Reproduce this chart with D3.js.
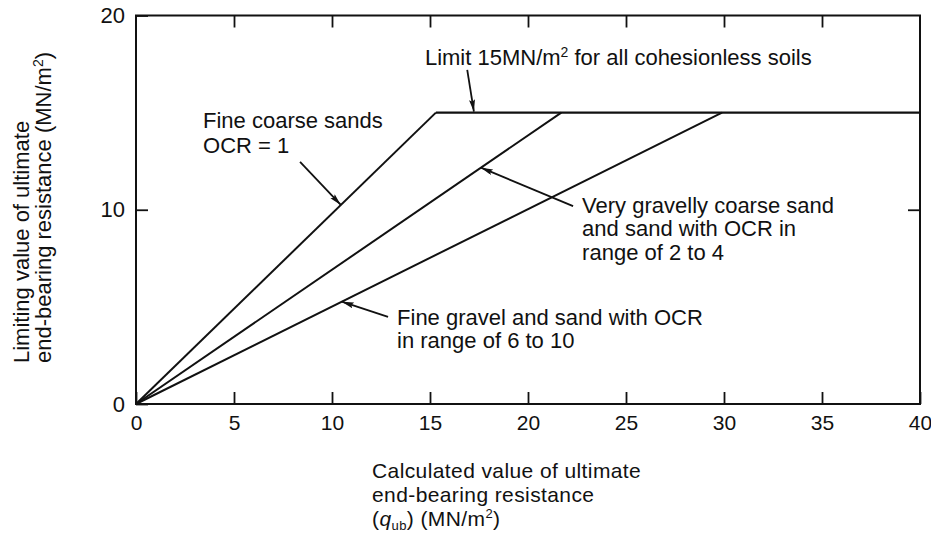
<!DOCTYPE html>
<html><head><meta charset="utf-8">
<script src="https://cdn.jsdelivr.net/npm/d3@7"></script>
<style>
body{margin:0;background:#fff}
svg{display:block}
text{font-family:"Liberation Sans",Arial,Helvetica,sans-serif;fill:#111}
</style>
</head><body>
<svg id="c" width="931" height="535"></svg>
<script>
// ---------- data ----------
const xTicks = [0, 5, 10, 15, 20, 25, 30, 35, 40];
const yTicks = [0, 10, 20];
const xDomain = [0, 40];
const yDomain = [0, 20];
const limitValue = 15;                 // MN/m2 limit for all cohesionless soils
const seriesNames = [
  "Fine coarse sands OCR = 1",
  "Very gravelly coarse sand and sand with OCR in range of 2 to 4",
  "Fine gravel and sand with OCR in range of 6 to 10"
];
const seriesStartX = [0, 0, 0];
const seriesStartY = [0, 0, 0];
const seriesLimitX = [15.3, 21.7, 29.9]; // calculated value where each line reaches the limit
const limitEndX = 40;

// annotation texts
const limitLabel = ["Limit 15MN/m", "2", " for all cohesionless soils"];
const label1Lines = ["Fine coarse sands", "OCR = 1"];
const label2Lines = ["Very gravelly coarse sand", "and sand with OCR in", "range of 2 to 4"];
const label3Lines = ["Fine gravel and sand with OCR", "in range of 6 to 10"];

// ---------- layout ----------
const svg = d3.select("#c");
const x = d3.scaleLinear().domain(xDomain).range([136, 920]);
const y = d3.scaleLinear().domain(yDomain).range([404, 15.5]);
const FS = 22;
const INK = "#111";

const defs = svg.append("defs");
defs.append("marker")
  .attr("id", "arr").attr("markerUnits", "userSpaceOnUse")
  .attr("markerWidth", 13).attr("markerHeight", 8)
  .attr("refX", 12).attr("refY", 3).attr("orient", "auto")
  .append("path").attr("d", "M0,0 L12,3 L0,6 L2,3 Z").attr("fill", INK);

// frame
svg.append("rect")
  .attr("x", x(xDomain[0])).attr("y", y(yDomain[1]))
  .attr("width", x(xDomain[1]) - x(xDomain[0]))
  .attr("height", y(yDomain[0]) - y(yDomain[1]))
  .attr("fill", "none").attr("stroke", INK).attr("stroke-width", 2);

function styleAxis(fs) {
  return g => {
    g.select(".domain").remove();
    g.selectAll(".tick line").attr("stroke", INK).attr("stroke-width", 1.8);
    g.selectAll(".tick text").attr("font-size", fs).attr("fill", INK)
      .attr("font-family", '"Liberation Sans",Arial,sans-serif');
  };
}

// bottom axis (inward ticks)
svg.append("g").attr("transform", `translate(0,${y(0)})`)
  .call(d3.axisBottom(x).tickValues(xTicks).tickSize(-12).tickPadding(11).tickFormat(d3.format("d")))
  .call(styleAxis(21));
// top axis (ticks only)
svg.append("g").attr("transform", `translate(0,${y(20)})`)
  .call(d3.axisTop(x).tickValues(xTicks.slice(1, -1)).tickSize(-12).tickFormat(""))
  .call(styleAxis(21));
// left axis
svg.append("g").attr("transform", `translate(${x(0)},0)`)
  .call(d3.axisLeft(y).tickValues(yTicks).tickSize(-12).tickPadding(11).tickFormat(d3.format("d")))
  .call(styleAxis(22));
// right axis (ticks only)
svg.append("g").attr("transform", `translate(${x(40)},0)`)
  .call(d3.axisRight(y).tickValues(yTicks.slice(1, -1)).tickSize(-12).tickFormat(""))
  .call(styleAxis(22));

// series lines
const line = d3.line().x(d => x(d[0])).y(d => y(d[1]));
const seriesPts = seriesNames.map((n, i) => [[seriesStartX[i], seriesStartY[i]], [seriesLimitX[i], limitValue]]);
svg.append("g").selectAll("path").data(seriesPts).join("path")
  .attr("d", line).attr("fill", "none").attr("stroke", INK).attr("stroke-width", 2);
// limit line
svg.append("path").datum([[d3.min(seriesLimitX), limitValue], [limitEndX, limitValue]])
  .attr("d", line).attr("fill", "none").attr("stroke", INK).attr("stroke-width", 2.2);

// helper: y value on a series at x
function onSeries(i, xv) {
  const p = seriesPts[i];
  if (xv >= p[1][0]) return limitValue;
  return p[0][1] + (p[1][1] - p[0][1]) * (xv - p[0][0]) / (p[1][0] - p[0][0]);
}
function arrow(x0, y0, x1, y1) {
  svg.append("line").attr("x1", x(x0)).attr("y1", y(y0)).attr("x2", x(x1)).attr("y2", y(y1))
    .attr("stroke", INK).attr("stroke-width", 1.8).attr("marker-end", "url(#arr)");
}
function multiline(lines, xv, ys) {
  const t = svg.append("text").attr("font-size", FS);
  lines.forEach((s, k) => t.append("tspan").attr("x", x(xv)).attr("y", y(ys[k])).text(s));
}

// limit annotation
const lt = svg.append("text").attr("x", x(14.74)).attr("y", y(17.45)).attr("font-size", FS);
lt.append("tspan").text(limitLabel[0]);
lt.append("tspan").attr("font-size", 14).attr("dy", -8).text(limitLabel[1]);
lt.append("tspan").attr("dy", 8).text(limitLabel[2]);
arrow(16.9, 17.2, 17.24, limitValue + 0.05);

// series annotations
multiline(label1Lines, 3.42, [14.21, 12.92]);
arrow(8.37, 12.46, 10.45, onSeries(0, 10.45));
multiline(label2Lines, 22.76, [9.83, 8.65, 7.41]);
arrow(22.3, 10.19, 17.6, onSeries(1, 17.6));
multiline(label3Lines, 13.32, [4.07, 2.88]);
arrow(12.86, 4.48, 10.5, onSeries(2, 10.5));

// x axis title
const XFS = 21;
const xt = svg.append("text").attr("font-size", XFS).attr("letter-spacing", 0.4);
xt.append("tspan").attr("x", 372).attr("y", 478).text("Calculated value of ultimate");
xt.append("tspan").attr("x", 372).attr("y", 502).text("end-bearing resistance");
const l3 = svg.append("text").attr("font-size", XFS).attr("letter-spacing", 0.4).attr("x", 372).attr("y", 526);
l3.append("tspan").text("(");
l3.append("tspan").attr("font-style", "italic").text("q");
l3.append("tspan").attr("font-size", 13).attr("dy", 4).text("ub");
l3.append("tspan").attr("dy", -4).text(") (MN/m");
l3.append("tspan").attr("font-size", 13).attr("dy", -8).text("2");
l3.append("tspan").attr("dy", 8).text(")");

// y axis title (rotated)
const yt = svg.append("g").attr("transform", "translate(0,363) rotate(-90)");
yt.append("text").attr("x", 0).attr("y", 29).attr("font-size", FS).text("Limiting value of ultimate");
const y2 = yt.append("text").attr("x", 0).attr("y", 51).attr("font-size", FS);
y2.append("tspan").text("end-bearing resistance (MN/m");
y2.append("tspan").attr("font-size", 14).attr("dy", -8).text("2");
y2.append("tspan").attr("dy", 8).text(")");
</script>
</body></html>
